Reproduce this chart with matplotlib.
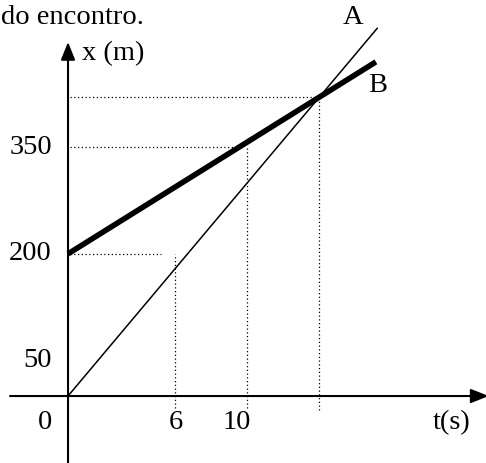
import matplotlib
matplotlib.use("Agg")
import matplotlib.pyplot as plt

# Position x (m) versus time t (s) for two movers
t_a = [0.0, 17.3]
x_a = [0.0, 518.0]
t_b = [0.0, 17.2]
x_b = [200.0, 470.0]

# Reference readings shown with dotted guides
guide_t = [6, 10]
guide_x = [200, 350]

y_ticks = [350, 200, 50]
x_ticks = [6, 10]

plt.rcParams['font.family'] = ['Liberation Serif', 'DejaVu Serif']
FS = 20.5

fig = plt.figure(figsize=(4.86, 4.63), dpi=100)
ax = fig.add_axes([0, 0, 1, 1])
ax.set_xlim(-3.80, 23.35)
ax.set_ylim(-94.2, 557.0)
ax.axis('off')

# Axes with arrowheads
arrow = dict(arrowstyle='-|>,head_length=1.08,head_width=0.43',
             mutation_scale=10, lw=1.5, color='black',
             shrinkA=0, shrinkB=0)
ax.annotate('', xy=(0, 498), xytext=(0, -100), arrowprops=arrow,
            annotation_clip=False)
ax.annotate('', xy=(23.5, 0), xytext=(-3.24, 0), arrowprops=arrow,
            annotation_clip=False)

# Motion lines
ax.plot(t_a, x_a, color='black', lw=1.1, solid_capstyle='butt')
ax.plot(t_b, x_b, color='black', lw=4.0, solid_capstyle='butt')

# Meeting point of the two lines
va = x_a[1] / t_a[1]
vb = (x_b[1] - x_b[0]) / t_b[1]
t_meet = x_b[0] / (va - vb)
x_meet = va * t_meet

dot = dict(color='black', lw=0.9, linestyle=(0, (1, 2)))
gap = 0.8
for tg, xg in zip(guide_t, guide_x):
    ax.plot([0.1, tg - gap], [xg, xg], **dot)
    ax.plot([tg, tg], [-17, xg], **dot)
ax.plot([0.1, t_meet], [x_meet, x_meet], **dot)
ax.plot([t_meet, t_meet], [-19, x_meet], **dot)

# Tick labels
for v in y_ticks:
    ax.text(-0.9, v, str(v), ha='right', va='center', fontsize=FS)
ax.text(-0.9, -37, '0', ha='right', va='center', fontsize=FS)
ax.text(x_ticks[0], -37, str(x_ticks[0]), ha='center', va='center', fontsize=FS)
ax.text(x_ticks[1] + 0.2, -37, str(x_ticks[1]), ha='right', va='center', fontsize=FS)

# Axis titles and line names
ax.text(21.4, -37, 't(s)', ha='center', va='center', fontsize=FS)
ax.text(0.78, 482, 'x (m)', ha='left', va='center', fontsize=FS)
ax.text(15.9, 532, 'A', ha='center', va='center', fontsize=FS)
ax.text(17.3, 437, 'B', ha='center', va='center', fontsize=FS)
ax.text(-3.75, 533, 'do encontro.', ha='left', va='center', fontsize=FS)

fig.savefig('out.png', dpi=100)
